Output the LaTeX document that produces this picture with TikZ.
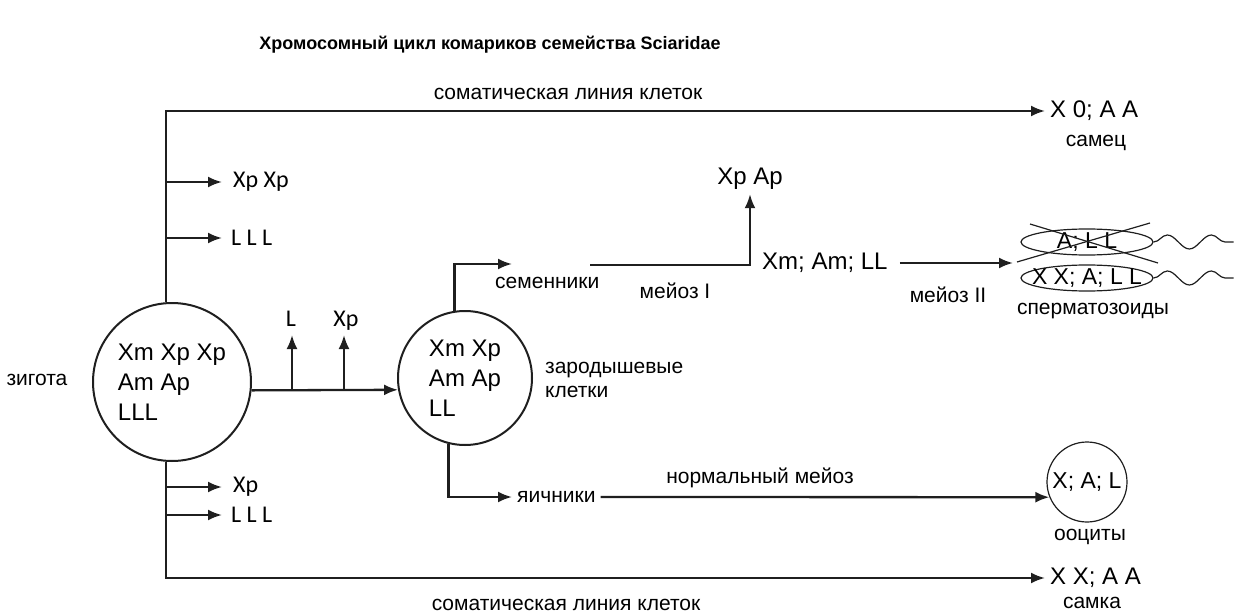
\documentclass[tikz,border=0pt]{standalone}
\usepackage{fontspec}
\setmainfont{Liberation Sans}
\newfontfamily\narrowfont{Carlito}
\usetikzlibrary{arrows.meta,shapes.geometric,decorations.pathmorphing}

\begin{document}
\begin{tikzpicture}[x=1pt,y=-1pt,
  line/.style={draw=black!88, line width=2.3pt},
  arr/.style={line, -{Latex[length=14pt,width=11pt]}},
  thinline/.style={draw=black!88, line width=1.2pt},
  chrom/.style={font=\fontsize{24}{30}\selectfont, inner sep=0pt},
  lbl/.style={font=\fontsize{21}{25}\selectfont, inner sep=0pt},
  small/.style={font=\narrowfont\fontsize{24}{26}\selectfont, inner sep=0pt},
  bigcell/.style={circle, draw=black!88, line width=2pt, inner sep=0pt, align=left, font=\fontsize{24}{30}\selectfont},
  sperm/.style={ellipse, thinline, minimum width=132pt, minimum height=26pt, inner sep=0pt},
  tail/.style={thinline, decorate, decoration={snake, segment length=44pt, amplitude=7pt}}
]
\useasboundingbox (0,0) rectangle (1240,615);

% title
\node[font=\bfseries\fontsize{18}{21}\selectfont] (title) at (490,45) {Хромосомный цикл комариков семейства Sciaridae};

% cells
\node[bigcell, minimum size=158pt] (zyg) at (172,382) {Xm Xp Xp\\Am Ap\\LLL};
\node[bigcell, minimum size=134pt] (germ) at (465,378) {Xm Xp\\Am Ap\\LL};
\node[circle, thinline, minimum size=80pt, inner sep=0pt, font=\fontsize{23}{26}\selectfont] (ooc) at (1087,482) {X; A; L};

% side labels
\node[lbl] (zyglbl) at (37,380) {зигота};
\node[lbl, anchor=west, align=left, font=\fontsize{21}{24}\selectfont] (germlbl) at (545,380) {зародышевые\\клетки};

% somatic line: trunk and end points
\coordinate (top) at (166,111);
\coordinate (bot) at (166,578);
\node[chrom, anchor=west, inner sep=5pt] (male) at (1045,111) {X 0; A A};
\node[lbl] (malelbl) at (1096,143) {самец};
\node[chrom, anchor=west, inner sep=5pt] (female) at (1045,578) {X X; A A};
\node[lbl] (femlbl) at (1092,603) {самка};
\node[lbl] (somtop) at (568,94) {соматическая линия клеток};
\node[lbl] (sombot) at (566,605) {соматическая линия клеток};

\draw[arr] (zyg.north -| top) -- (top) -- (male.west);
\draw[arr] (zyg.south -| bot) -- (bot) -- (female.west);

% chromosomes eliminated from the soma
\coordinate (b1) at (166,182);
\coordinate (b2) at (166,238);
\coordinate (b3) at (166,487);
\coordinate (b4) at (166,515);
\node[small, anchor=west, inner xsep=11pt] (e1) at (222,182) {Xp Xp};
\node[small, anchor=west, inner xsep=9pt] (e2) at (222,238) {L L L};
\node[small, anchor=west, inner xsep=11pt] (e3) at (222,487) {Xp};
\node[small, anchor=west, inner xsep=9pt] (e4) at (222,515) {L L L};
\draw[arr] (b1) -- (b1 -| e1.west);
\draw[arr] (b2) -- (b2 -| e2.west);
\draw[arr] (b3) -- (b3 -| e3.west);
\draw[arr] (b4) -- (b4 -| e4.west);

% zygote to germ line
\draw[arr] (zyg.-6) -- (germ.190.6);
\coordinate (u1) at (292,390);
\coordinate (u2) at (344,390);
\node[small, anchor=base] (gl) at (291,326) {L};
\node[small, anchor=base] (gx) at (346,326) {Xp};
\draw[arr, shorten >=9pt] (u1) -- (u1 |- gl.base);
\draw[arr, shorten >=9pt] (u2) -- (u2 |- gx.base);

% male germ line
\coordinate (s2) at (512,264);
\node[lbl, anchor=west] (testis) at (495,283) {семенники};
\draw[arr] (germ.99) |- (s2);
\coordinate (m1s) at (590,265);
\node[chrom, anchor=base, inner sep=5pt] (xpap) at (750,184) {Xp Ap};
\draw[arr] (m1s) -| (xpap.south);
\node[lbl] (mei1) at (675,291) {мейоз I};
\node[chrom, anchor=west, inner sep=0pt] (xmam) at (762,263) {Xm; Am; LL};
\coordinate (sp) at (1013,263);
\draw[arr] ([xshift=12pt]xmam.east) -- (sp);
\node[lbl] (mei2) at (948,295) {мейоз II};

% spermatozoa
\node[sperm, label={[chrom, font=\fontsize{23}{26}\selectfont]center:A; L L}] (sp1) at (1087,242) {};
\node[sperm, label={[chrom, font=\fontsize{23}{26}\selectfont]center:X X; A; L L}] (sp2) at (1087,278) {};
\draw[thinline] (1017,262) -- (1150,223);
\draw[thinline] (1030,224) -- (1158,263);
\draw[tail] (sp1.east) -- ++(80,0);
\draw[tail] (sp2.east) -- ++(80,0);
\node[lbl] (spermlbl) at (1093,311) {сперматозоиды};

% female germ line
\node[lbl, anchor=west, inner sep=5pt] (ovary) at (512,497) {яичники};
\draw[arr] (germ.256) |- (ovary.west);
\draw[arr] (ovary.east) -- (ooc.202);
\node[lbl] (nmei) at (760,478) {нормальный мейоз};
\node[lbl] (ooclbl) at (1090,537) {ооциты};
\end{tikzpicture}
\end{document}
